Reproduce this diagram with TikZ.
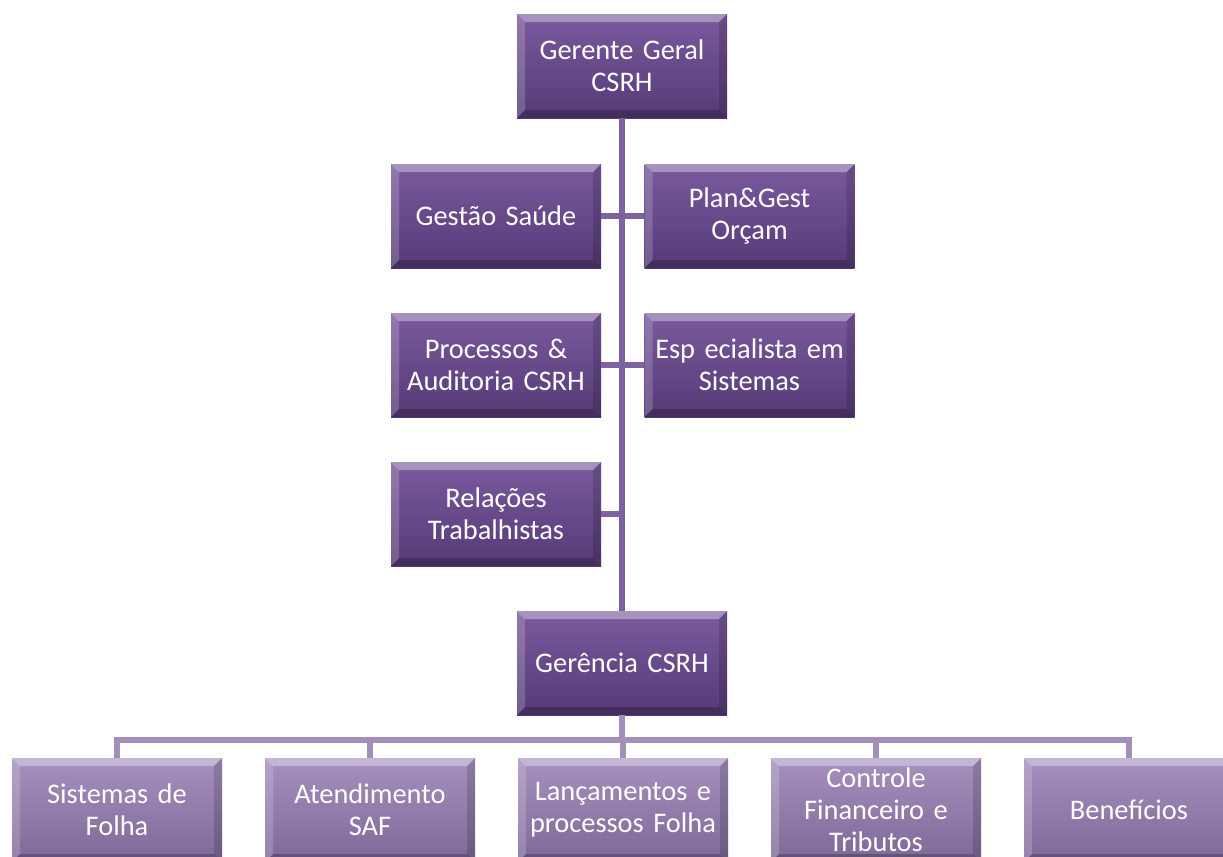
\documentclass[tikz,border=0pt]{standalone}
\usepackage{fontspec}
\setmainfont{Carlito}
\definecolor{boxtop}{HTML}{7A5A9E}
\definecolor{boxbot}{HTML}{553A77}
\definecolor{lowtop}{HTML}{A690BE}
\definecolor{lowbot}{HTML}{7D6897}
\definecolor{linedark}{HTML}{7E629F}
\definecolor{linelight}{HTML}{A38FBA}
\newcommand\bevelbox{%
  \fill[white,opacity=0.35] (path picture bounding box.north west) -- (path picture bounding box.north east)
    -- ([shift={(-4pt,-4pt)}]path picture bounding box.north east) -- ([shift={(4pt,-4pt)}]path picture bounding box.north west) -- cycle;
  \fill[white,opacity=0.18] (path picture bounding box.north west) -- ([shift={(4pt,-4pt)}]path picture bounding box.north west)
    -- ([shift={(4pt,4pt)}]path picture bounding box.south west) -- (path picture bounding box.south west) -- cycle;
  \fill[black,opacity=0.15] (path picture bounding box.north east) -- ([shift={(-4pt,-4pt)}]path picture bounding box.north east)
    -- ([shift={(-4pt,4pt)}]path picture bounding box.south east) -- (path picture bounding box.south east) -- cycle;
  \fill[black,opacity=0.22] (path picture bounding box.south west) -- ([shift={(4pt,4pt)}]path picture bounding box.south west)
    -- ([shift={(-4pt,4pt)}]path picture bounding box.south east) -- (path picture bounding box.south east) -- cycle;
}
\begin{document}
\begin{tikzpicture}[
    x=0.5pt, y=-0.5pt,
    unitbox/.style={rectangle, minimum width=105pt, minimum height=52pt, text width=104pt, inner sep=0pt,
        align=center, text=white, font=\fontsize{14.2}{16}\selectfont, path picture={\bevelbox}},
    topbox/.style={unitbox, top color=boxtop, bottom color=boxbot},
    lowbox/.style={unitbox, top color=lowtop, bottom color=lowbot},
    trunk/.style={draw=linedark, line width=3pt},
    bus/.style={draw=linelight, line width=3pt}
]
    \useasboundingbox (0,0) rectangle (1223,857);
    \clip (0,0) rectangle (1223,857);

    \node[topbox] at (622,66) (gg) {Gerente Geral\\CSRH};
    \node[topbox] at (496,216) (gs) {Gestão Saúde};
    \node[topbox] at (749.5,216) (pg) {Plan\&Gest\\Orçam};
    \node[topbox] at (496,365) (pa) {Processos \&\\Auditoria CSRH};
    \node[topbox] at (749.5,365) (es) {Esp ecialista em\\Sistemas};
    \node[topbox] at (496,514) (rt) {Relações\\Trabalhistas};
    \node[topbox] at (622,663) (gc) {Gerência CSRH};

    \node[lowbox] at (117,810) (sf) {Sistemas de\\Folha};
    \node[lowbox] at (370,810) (as) {Atendimento\\SAF};
    \node[lowbox] at (623,810) (lp) {Lançamentos e\\processos Folha};
    \node[lowbox] at (876,810) (cf) {Controle\\Financeiro e\\Tributos};
    \node[lowbox] at (1129,810) (bf) {Benefícios};

    \draw[trunk] (gg) -- (gc);
    \draw[trunk] (gs) -- (pg);
    \draw[trunk] (pa) -- (es);
    \draw[trunk] (rt.east) -- (rt.east -| gg.south);

    \coordinate (busy) at (622,740);
    \draw[bus] (gc.south) -- (busy);
    \draw[bus] (sf.north) |- (busy);
    \draw[bus] (as.north) |- (busy);
    \draw[bus] (lp.north) |- (busy);
    \draw[bus] (cf.north) |- (busy);
    \draw[bus] (bf.north) |- (busy);
\end{tikzpicture}
\end{document}
